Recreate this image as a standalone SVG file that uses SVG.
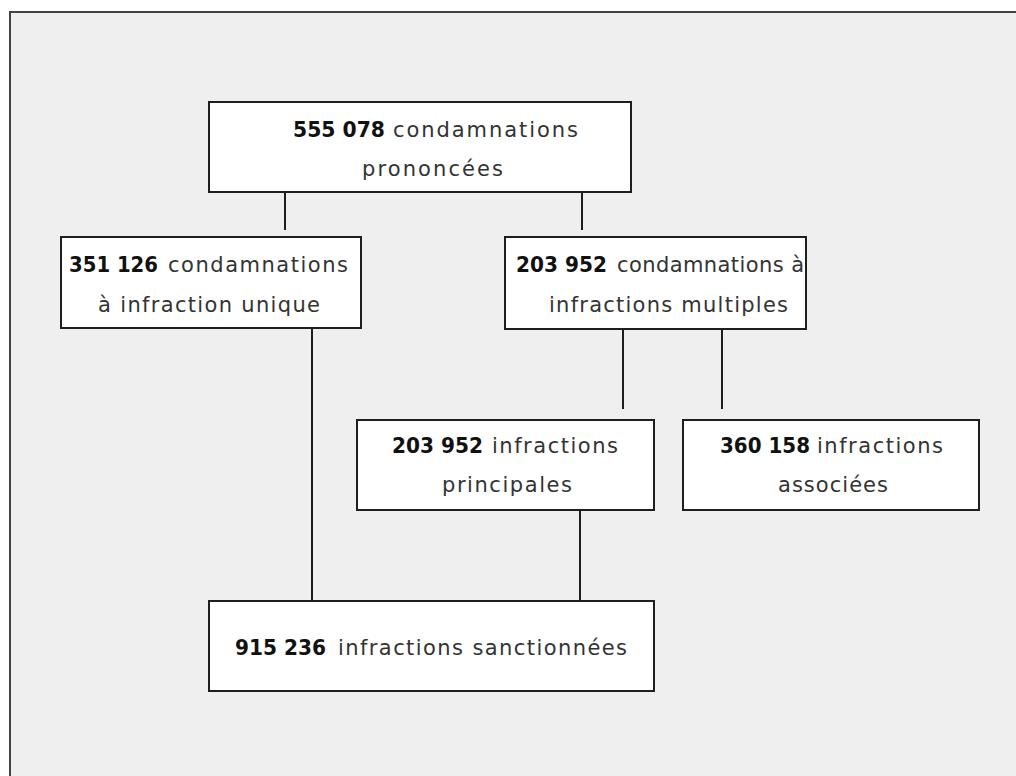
<svg xmlns="http://www.w3.org/2000/svg" width="1016" height="776" viewBox="0 0 1016 776">
<style>
.box{fill:#ffffff;stroke:#1e1e1e;stroke-width:2}
.ln{stroke:#1e1e1e;stroke-width:2;fill:none}
text{font-family:"DejaVu Sans","Liberation Sans",sans-serif;font-size:21px;fill:#333}
.n{font-weight:bold;fill:#111}
</style>
<rect x="0" y="0" width="1016" height="776" fill="#ffffff"/>
<rect x="10" y="12" width="1030" height="800" fill="#efefef" stroke="#444" stroke-width="2"/>
<g id="connectors">
<line class="ln" x1="285" y1="192" x2="285" y2="230"/>
<line class="ln" x1="582" y1="192" x2="582" y2="230"/>
<line class="ln" x1="623" y1="329" x2="623" y2="409"/>
<line class="ln" x1="722" y1="329" x2="722" y2="409"/>
<line class="ln" x1="312" y1="328" x2="312" y2="601"/>
<line class="ln" x1="580" y1="510" x2="580" y2="601"/>
</g>
<g id="n_total">
<rect class="box" x="209" y="102" width="422" height="90"/>
<text class="n" x="293" y="137" textLength="92" lengthAdjust="spacingAndGlyphs">555 078</text>
<text x="393" y="137" textLength="185" lengthAdjust="spacing">condamnations</text>
<text x="362" y="176" textLength="141" lengthAdjust="spacing">prononcées</text>
</g>
<g id="n_unique">
<rect class="box" x="61" y="237" width="300" height="91"/>
<text class="n" x="69" y="272" textLength="89" lengthAdjust="spacingAndGlyphs">351 126</text>
<text x="168" y="272" textLength="180" lengthAdjust="spacing">condamnations</text>
<text x="98" y="312" textLength="222" lengthAdjust="spacing">à infraction unique</text>
</g>
<g id="n_multiples">
<rect class="box" x="505" y="237" width="301" height="92"/>
<text class="n" x="516" y="272" textLength="91" lengthAdjust="spacingAndGlyphs">203 952</text>
<text x="617" y="272" textLength="187" lengthAdjust="spacing">condamnations à</text>
<text x="549" y="312" textLength="239" lengthAdjust="spacing">infractions multiples</text>
</g>
<g id="n_principales">
<rect class="box" x="357" y="420" width="297" height="90"/>
<text class="n" x="392" y="453" textLength="91" lengthAdjust="spacingAndGlyphs">203 952</text>
<text x="492" y="453" textLength="126" lengthAdjust="spacing">infractions</text>
<text x="442" y="492" textLength="130" lengthAdjust="spacing">principales</text>
</g>
<g id="n_associees">
<rect class="box" x="683" y="420" width="296" height="90"/>
<text class="n" x="720" y="453" textLength="90" lengthAdjust="spacingAndGlyphs">360 158</text>
<text x="817" y="453" textLength="126" lengthAdjust="spacing">infractions</text>
<text x="778" y="492" textLength="110" lengthAdjust="spacing">associées</text>
</g>
<g id="n_sanctionnees">
<rect class="box" x="209" y="601" width="445" height="90"/>
<text class="n" x="235" y="655" textLength="91" lengthAdjust="spacingAndGlyphs">915 236</text>
<text x="338" y="655" textLength="289" lengthAdjust="spacing">infractions sanctionnées</text>
</g>
</svg>
